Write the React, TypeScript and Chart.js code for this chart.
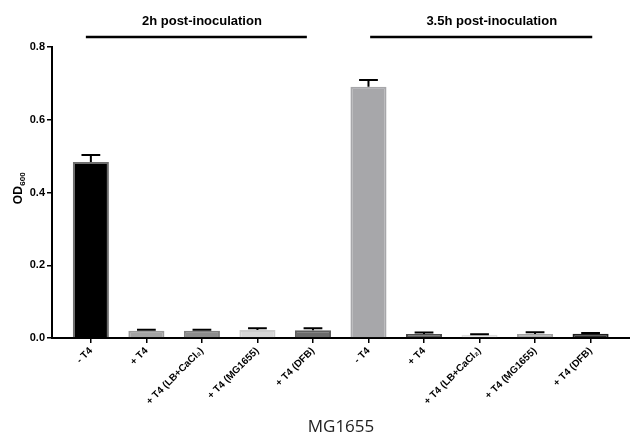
import React, { useEffect, useRef } from "react";
import { Chart, registerables } from "chart.js";

Chart.register(...registerables);

const categories = [
  "- T4",
  "+ T4",
  "+ T4 (LB+CaCl₂)",
  "+ T4 (MG1655)",
  "+ T4 (DFB)",
  "- T4",
  "+ T4",
  "+ T4 (LB+CaCl₂)",
  "+ T4 (MG1655)",
  "+ T4 (DFB)",
];
const meanOD = [0.484, 0.02, 0.02, 0.022, 0.021, 0.691, 0.011, 0.009, 0.011, 0.012];
const errorOD = [0.019, 0.003, 0.003, 0.005, 0.006, 0.018, 0.004, 0.001, 0.005, 0.002];
const fillColors = [
  "#000000", "#a3a3a3", "#8c8c8c", "#d6d6d6", "#6b6b6b",
  "#a7a7aa", "#5c5c5c", "#e8e8e8", "#ababab", "#2e2e2e",
];
const edgeColors = [
  "#6e6e6e", "#999999", "#808080", "#cccccc", "#5e5e5e",
  "#a7a7aa", "#4a4a4a", "#e0e0e0", "#a0a0a0", "#1e1e1e",
];
const groupLabels = ["2h post-inoculation", "3.5h post-inoculation"];
const groupLineFrom = [-0.09, 5.03];
const groupLineTo = [3.89, 9.03];
const groupLabelAt = [2.0, 7.22];
const yTicks = [0, 0.2, 0.4, 0.6, 0.8];

const FONT = "'Liberation Sans', Arial, sans-serif";

const errorBarPlugin = {
  id: "errorBars",
  afterDatasetsDraw(chart: any) {
    const ctx = chart.ctx;
    const meta = chart.getDatasetMeta(0);
    const y = chart.scales.y;
    ctx.save();
    ctx.strokeStyle = "#000";
    ctx.lineWidth = 2;
    meta.data.forEach((bar: any, i: number) => {
      const top = y.getPixelForValue(meanOD[i]);
      const up = y.getPixelForValue(meanOD[i] + errorOD[i]);
      const half = bar.width * 0.26;
      ctx.beginPath();
      ctx.moveTo(bar.x, top);
      ctx.lineTo(bar.x, up);
      ctx.moveTo(bar.x - half, up);
      ctx.lineTo(bar.x + half, up);
      ctx.stroke();
    });
    ctx.restore();
  },
};

const annotationPlugin = {
  id: "groupHeaders",
  afterDraw(chart: any) {
    const ctx = chart.ctx;
    const x = chart.scales.x;
    const y = chart.scales.y;
    ctx.save();
    ctx.strokeStyle = "#000";
    ctx.lineWidth = 2.5;
    ctx.fillStyle = "#000";
    ctx.font = `bold 13px ${FONT}`;
    ctx.textAlign = "center";
    ctx.textBaseline = "alphabetic";
    groupLabels.forEach((label, i) => {
      ctx.beginPath();
      ctx.moveTo(x.getPixelForValue(groupLineFrom[i]), 37);
      ctx.lineTo(x.getPixelForValue(groupLineTo[i]), 37);
      ctx.stroke();
      ctx.fillText(label, x.getPixelForValue(groupLabelAt[i]), 25);
    });
    // y-axis title with subscript
    const cy = (y.top + y.bottom) / 2 - 4;
    ctx.translate(22, cy);
    ctx.rotate(-Math.PI / 2);
    ctx.font = `bold 12px ${FONT}`;
    const wMain = ctx.measureText("OD").width;
    ctx.font = `bold 8px ${FONT}`;
    const wSub = ctx.measureText("600").width;
    const start = -(wMain + wSub) / 2;
    ctx.textAlign = "left";
    ctx.font = `bold 12px ${FONT}`;
    ctx.fillText("OD", start, 0);
    ctx.font = `bold 8px ${FONT}`;
    ctx.fillText("600", start + wMain + 0.5, 2.5);
    ctx.restore();
  },
};

export default function App() {
  const ref = useRef<HTMLCanvasElement>(null);
  useEffect(() => {
    if (!ref.current) return;
    const chart = new Chart(ref.current, {
      type: "bar",
      data: {
        datasets: [
          {
            data: meanOD.map((v, i) => ({ x: i, y: v })),
            backgroundColor: fillColors,
            borderColor: edgeColors,
            borderWidth: 2,
            barPercentage: 0.65,
            categoryPercentage: 1,
          },
        ],
      },
      options: {
        animation: false,
        responsive: true,
        maintainAspectRatio: false,
        layout: { padding: { top: 47, left: 0, right: 0, bottom: 0 } },
        plugins: { legend: { display: false }, tooltip: { enabled: false } },
        scales: {
          x: {
            type: "linear",
            offset: false,
            min: -0.7,
            max: 9.71,
            afterBuildTicks: (axis: any) => {
              axis.ticks = categories.map((_, i) => ({ value: i }));
            },
            afterFit: (axis: any) => {
              axis.height = 99;
            },
            grid: {
              offset: false,
              drawOnChartArea: false,
              drawTicks: true,
              tickLength: 5,
              color: "#000",
              lineWidth: 1.5,
            },
            border: { display: true, color: "#000", width: 2 },
            ticks: {
              autoSkip: false,
              minRotation: 45,
              maxRotation: 45,
              padding: 2,
              color: "#000",
              font: { family: FONT, size: 10, weight: "bold" },
              callback: (v: any) => categories[v] ?? "",
            },
            title: {
              display: true,
              text: "MG1655",
              color: "#222",
              font: { family: "'Open Sans', sans-serif", size: 17 },
              padding: { top: 0, bottom: 0 },
            },
          },
          y: {
            min: 0,
            max: 0.8,
            afterBuildTicks: (axis: any) => {
              axis.ticks = yTicks.map((v) => ({ value: v }));
            },
            afterFit: (axis: any) => {
              axis.width = 52;
            },
            grid: {
              drawOnChartArea: false,
              drawTicks: true,
              tickLength: 5,
              color: "#000",
              lineWidth: 1.5,
            },
            border: { display: true, color: "#000", width: 2 },
            ticks: {
              padding: 2,
              color: "#000",
              font: { family: FONT, size: 11, weight: "bold" },
              callback: (v: any) => Number(v).toFixed(1),
            },
          },
        },
      },
      plugins: [errorBarPlugin, annotationPlugin],
    } as any);
    return () => chart.destroy();
  }, []);
  return (
    <div style={{ position: "fixed", left: 0, top: 0, width: 630, height: 437, background: "#fff" }}>
      <canvas ref={ref} />
    </div>
  );
}
